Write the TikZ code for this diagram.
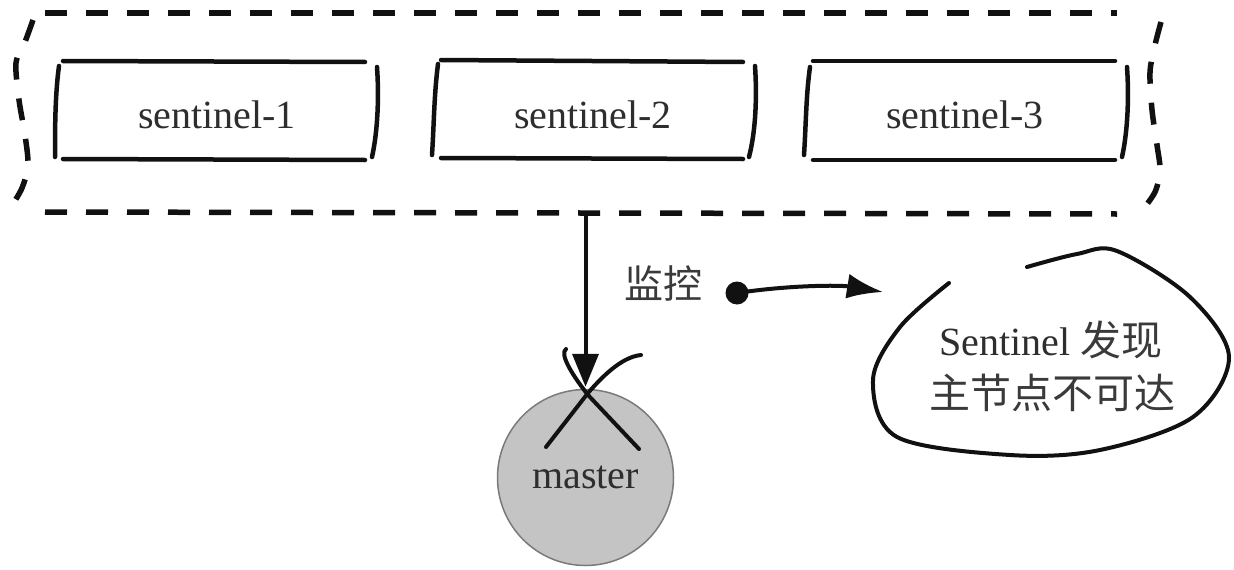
\documentclass[tikz,border=0pt]{standalone}
\usepackage{fontspec}
\setmainfont{Liberation Serif}
\newfontfamily\cjk{Noto Sans CJK SC}
\usetikzlibrary{arrows.meta}
\definecolor{ink}{HTML}{111111}
\definecolor{txt}{HTML}{2E2E2E}
\definecolor{cjktxt}{HTML}{3A3A3A}
\definecolor{mfill}{HTML}{C4C4C4}
\definecolor{mdraw}{HTML}{7A7A7A}
\begin{document}
\begin{tikzpicture}[x=1pt,y=-1pt,
  hand/.style={draw=ink, line width=4.5pt, line cap=round},
  dashline/.style={draw=ink, line width=5.5pt, dash pattern=on 22pt off 19pt},
  lbl/.style={text=txt, font=\fontsize{40}{46}\selectfont, inner sep=0pt},
  cjklbl/.style={text=cjktxt, font=\cjk\fontsize{39}{46}\selectfont, inner sep=0pt},
  stroke/.style={draw=ink, line width=4pt, line cap=round}]
\useasboundingbox (0,0) rectangle (1234,570);

% outer dashed group
\draw[dashline] (45,13) -- (1117,13);
\draw[dashline] (45,212) -- (1117,214);
\draw[dashline] plot[smooth] coordinates {(33,20) (25,42) (16,63) (19,100) (25,135) (28,165) (22,188) (11,207)};
\draw[dashline] plot[smooth] coordinates {(1161,22) (1155,45) (1150,72) (1152,110) (1157,145) (1160,170) (1155,192) (1141,212)};

% sentinel labels
\node[lbl] (s1) at (217,115) {sentinel-1};
\node[lbl] (s2) at (593,115) {sentinel-2};
\node[lbl] (s3) at (965,115) {sentinel-3};

% box 1
\draw[hand] (63,61) -- (365,62);
\draw[hand] (63,159) -- (365,160);
\draw[hand] (59,66) .. controls (55,95) and (55,130) .. (55,157);
\draw[hand] (377,67) .. controls (379,95) and (378,130) .. (372,157);
% box 2
\draw[hand] (441,60) -- (743,62);
\draw[hand] (441,158) -- (743,159);
\draw[hand] (438,64) .. controls (434,95) and (434,125) .. (432,155);
\draw[hand] (755,66) .. controls (757,95) and (756,130) .. (749,157);
% box 3
\draw[hand] (813,61) -- (1115,61);
\draw[hand] (813,160) -- (1115,160);
\draw[hand] (810,67) .. controls (806,95) and (806,125) .. (804,155);
\draw[hand] (1127,67) .. controls (1129,95) and (1128,130) .. (1122,157);

% master
\node[circle, fill=mfill, draw=mdraw, line width=1.5pt, minimum size=176pt, inner sep=0pt,
      text=txt, font=\fontsize{40}{46}\selectfont] (m) at (585.5,477.5) {master};

% arrow from group to master
\coordinate (gb) at (585.5,214);
\draw[draw=ink, line width=4pt, -{Triangle[length=33pt,width=26pt]}, shorten >=2pt] (gb) -- (m.north);

% cross
\draw[stroke] (566,349) .. controls (559,354) and (573,376) .. (588,395) -- (639,449);
\draw[stroke] (641,355) .. controls (621,357) and (601,378) .. (588,393) -- (546,447);

% monitor label and arrow
\node[cjklbl] (jk) at (663,284) {监控};
\node[circle, fill=ink, minimum size=23pt, inner sep=0pt] (dot) at (737,293) {};
\coordinate (tip) at (883,292);
\draw[draw=ink, line width=4pt, -{Latex[length=36pt,width=25pt]}] (dot.center) .. controls (790,285) and (840,285) .. (tip);

% bubble
\draw[stroke] plot[smooth, tension=0.55] coordinates {(1027,267) (1077,254) (1117,251) (1190,297) (1229,357) (1193,417) (1100,450) (1010,455) (897,437) (873,380) (900,327) (949,283)};
\node[lbl] (b1) at (1051,340) {Sentinel {\cjk\color{cjktxt}\fontsize{41}{46}\selectfont 发现}};
\node[cjklbl, font=\cjk\fontsize{41}{46}\selectfont] (b2) at (1052,393) {主节点不可达};
\end{tikzpicture}
\end{document}
